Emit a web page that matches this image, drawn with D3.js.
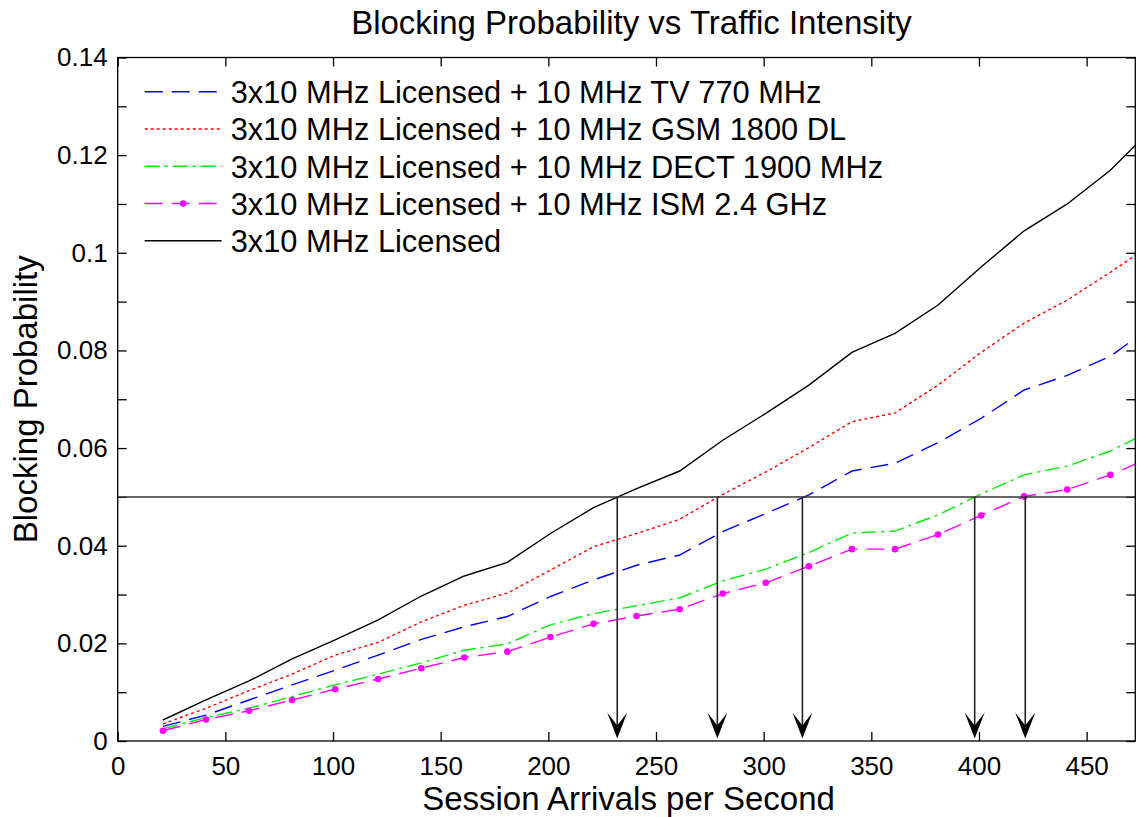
<!DOCTYPE html>
<html>
<head>
<meta charset="utf-8">
<script src="https://cdn.jsdelivr.net/npm/d3@7"></script>
<style>
  body { margin: 0; background: #fff; }
  svg { display: block; font-family: "Liberation Sans", Arial, sans-serif; }
</style>
</head>
<body>
<div id="chart"></div>
<script>
const arrivals = [21, 41, 61, 81, 101, 121, 141, 161, 181, 201, 221, 241, 261, 281, 301, 321, 341, 361, 381, 401, 421, 441, 461, 481]
const tv770 = [0.0030, 0.0053, 0.0084, 0.0115, 0.0145, 0.0176, 0.0208, 0.0234, 0.0255, 0.0296, 0.0330, 0.0360, 0.0381, 0.0429, 0.0466, 0.0504, 0.0553, 0.0569, 0.0611, 0.0661, 0.0719, 0.0749, 0.0788, 0.0852]
const gsm1800 = [0.0035, 0.0067, 0.0103, 0.0137, 0.0176, 0.0202, 0.0244, 0.0278, 0.0303, 0.0350, 0.0398, 0.0425, 0.0454, 0.0505, 0.0551, 0.0601, 0.0654, 0.0672, 0.0729, 0.0796, 0.0856, 0.0903, 0.0960, 0.1020]
const dect1900 = [0.0025, 0.0048, 0.0067, 0.0091, 0.0115, 0.0137, 0.0160, 0.0186, 0.0199, 0.0238, 0.0261, 0.0277, 0.0293, 0.0328, 0.0352, 0.0386, 0.0426, 0.0430, 0.0463, 0.0506, 0.0545, 0.0563, 0.0594, 0.0638]
const ism24 = [0.0021, 0.0044, 0.0062, 0.0084, 0.0106, 0.0127, 0.0149, 0.0171, 0.0183, 0.0213, 0.0240, 0.0256, 0.0270, 0.0302, 0.0324, 0.0358, 0.0393, 0.0393, 0.0423, 0.0462, 0.0501, 0.0515, 0.0545, 0.0583]
const licensed = [0.0043, 0.0084, 0.0123, 0.0168, 0.0207, 0.0248, 0.0297, 0.0338, 0.0366, 0.0425, 0.0478, 0.0517, 0.0553, 0.0616, 0.0671, 0.0729, 0.0796, 0.0835, 0.0893, 0.0971, 0.1045, 0.1100, 0.1169, 0.1257]

const legendLabels = [
  '3x10 MHz Licensed + 10 MHz TV 770 MHz',
  '3x10 MHz Licensed + 10 MHz GSM 1800 DL',
  '3x10 MHz Licensed + 10 MHz DECT 1900 MHz',
  '3x10 MHz Licensed + 10 MHz ISM 2.4 GHz',
  '3x10 MHz Licensed'
]
const xTicks = [0, 50, 100, 150, 200, 250, 300, 350, 400, 450]
const yTicks = [0, 0.01, 0.02, 0.03, 0.04, 0.05, 0.06, 0.07, 0.08, 0.09, 0.1, 0.11, 0.12, 0.13, 0.14]
const yLabelled = [0, 0.02, 0.04, 0.06, 0.08, 0.1, 0.12, 0.14]
const threshold = 0.05
const crossings = [232, 278.5, 318, 398, 421.5]
const xMax = 472.6

const width = 1137, height = 817
const padding = { left: 117.7, top: 57.5, right: 1.7, bottom: 76 }
const w = width - padding.left - padding.right
const h = height - padding.top - padding.bottom

const series = [
  { values: tv770, color: '#0000ff', dash: '18,9', marker: false },
  { values: gsm1800, color: '#ff0000', dash: '3,3', marker: false },
  { values: dect1900, color: '#00ee00', dash: '15,5,3,5', marker: false },
  { values: ism24, color: '#ff00ff', dash: '18,9', marker: true },
  { values: licensed, color: '#000000', dash: null, marker: false }
]

const x = d3.scaleLinear().domain([0, xMax]).range([0, w])
const y = d3.scaleLinear().domain([0, 0.14]).range([h, 0])

const svg = d3.select('#chart').append('svg')
  .attr('width', width)
  .attr('height', height)

svg.append('defs').append('clipPath').attr('id', 'plotclip')
  .append('rect').attr('width', w).attr('height', h)

const g = svg.append('g')
  .attr('transform', `translate(${padding.left}, ${padding.top})`)

// ticks: inward on all four sides
const tickLen = 9
const xAxisB = d3.axisBottom(x).tickValues(xTicks).tickSizeInner(-tickLen).tickSizeOuter(0).tickPadding(16)
const xAxisT = d3.axisTop(x).tickValues(xTicks).tickSizeInner(-tickLen).tickSizeOuter(0).tickFormat('')
const yAxisL = d3.axisLeft(y).tickValues(yTicks).tickSizeInner(-tickLen).tickSizeOuter(0).tickPadding(10)
  .tickFormat(d => yLabelled.some(v => Math.abs(v - d) < 1e-9) ? d3.format('~g')(d) : '')
const yAxisR = d3.axisRight(y).tickValues(yTicks).tickSizeInner(-tickLen).tickSizeOuter(0).tickFormat('')

const axes = [
  g.append('g').attr('transform', `translate(0, ${h})`).call(xAxisB),
  g.append('g').call(xAxisT),
  g.append('g').call(yAxisL),
  g.append('g').attr('transform', `translate(${w}, 0)`).call(yAxisR)
]
axes.forEach(a => {
  a.select('.domain').remove()
  a.selectAll('line').attr('stroke', '#000').attr('stroke-width', 1.3)
  a.selectAll('text').attr('fill', '#000').attr('font-size', 26)
    .attr('font-family', '"Liberation Sans", Arial, sans-serif')
})

// lines
const plot = g.append('g').attr('clip-path', 'url(#plotclip)')
const line = d3.line().x((d, i) => x(arrivals[i])).y(d => y(d))

series.forEach(s => {
  plot.append('path')
    .datum(s.values)
    .attr('d', line)
    .attr('fill', 'none')
    .attr('stroke', s.color)
    .attr('stroke-width', 1.4)
    .attr('stroke-dasharray', s.dash)
  if (s.marker) {
    plot.selectAll(null).data(s.values).enter().append('circle')
      .attr('cx', (d, i) => x(arrivals[i]))
      .attr('cy', d => y(d))
      .attr('r', 3.3)
      .attr('fill', s.color)
  }
})

// threshold line and arrows
plot.append('line')
  .attr('x1', 0).attr('x2', w)
  .attr('y1', y(threshold)).attr('y2', y(threshold))
  .attr('stroke', '#333').attr('stroke-width', 1.5)

const tipGap = 0.0005
crossings.forEach(c => {
  const cx = x(c), tip = y(tipGap)
  plot.append('line')
    .attr('x1', cx).attr('x2', cx)
    .attr('y1', y(threshold)).attr('y2', tip - 10)
    .attr('stroke', '#222').attr('stroke-width', 1.6)
  plot.append('path')
    .attr('d', `M${cx},${tip} L${cx - 10},${tip - 26} L${cx},${tip - 13} L${cx + 10},${tip - 26} Z`)
    .attr('fill', '#000')
})

// box
g.append('rect')
  .attr('width', w).attr('height', h)
  .attr('fill', 'none').attr('stroke', '#000').attr('stroke-width', 1.3)

// legend
const legend = g.append('g').attr('transform', 'translate(27, 34.2)')
const rowH = 37.25
series.forEach((s, i) => {
  const row = legend.append('g').attr('transform', `translate(0, ${i * rowH})`)
  row.append('line')
    .attr('x1', 0).attr('x2', 77)
    .attr('stroke', s.color).attr('stroke-width', 1.4)
    .attr('stroke-dasharray', s.dash)
  if (s.marker) {
    row.append('circle').attr('cx', 38.5).attr('cy', 0).attr('r', 3.3).attr('fill', s.color)
  }
  row.append('text')
    .attr('x', 86).attr('y', 11.5)
    .attr('font-size', 30.8)
    .text(legendLabels[i])
})

// titles
svg.append('text')
  .attr('x', padding.left + w / 2 + 5).attr('y', 34)
  .attr('text-anchor', 'middle').attr('font-size', 33)
  .text('Blocking Probability vs Traffic Intensity')

svg.append('text')
  .attr('x', padding.left + w / 2 + 2).attr('y', 810)
  .attr('text-anchor', 'middle').attr('font-size', 33)
  .text('Session Arrivals per Second')

svg.append('text')
  .attr('transform', `translate(37, ${padding.top + h / 2}) rotate(-90)`)
  .attr('text-anchor', 'middle').attr('font-size', 33)
  .text('Blocking Probability')
</script>
</body>
</html>
